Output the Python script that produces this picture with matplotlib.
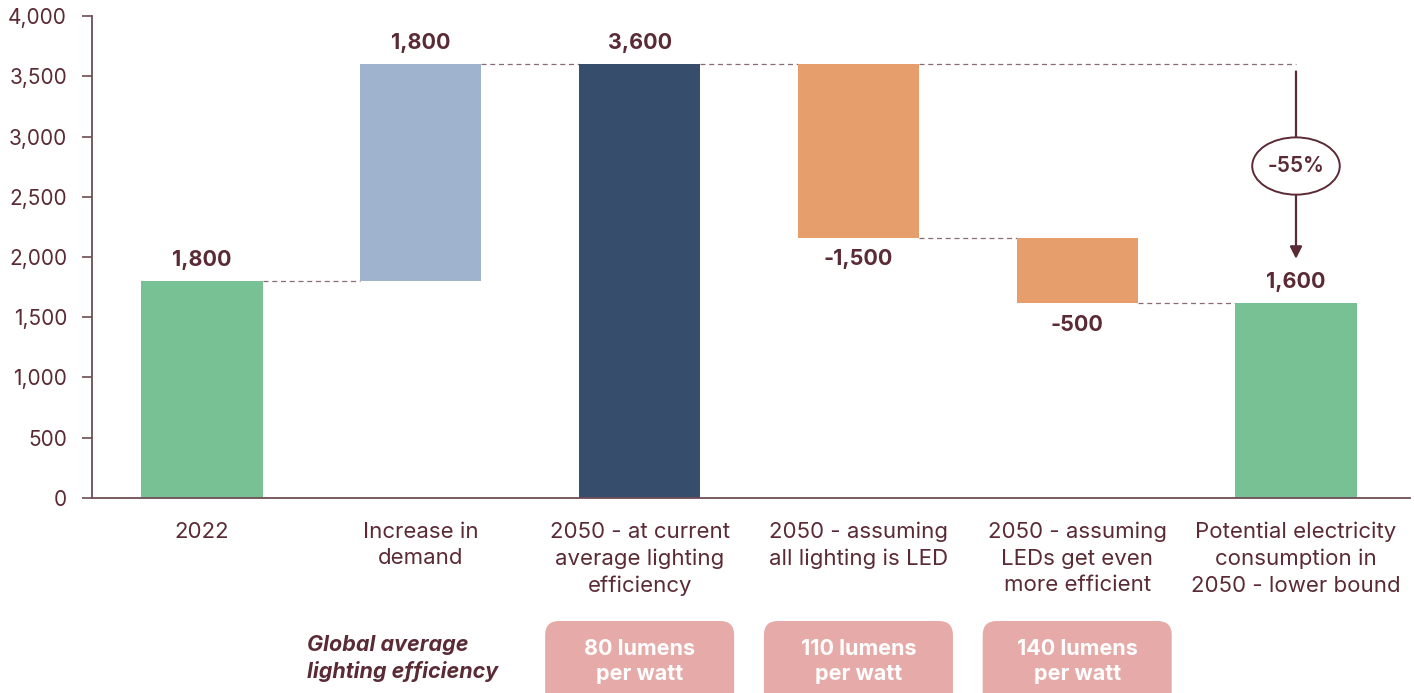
import matplotlib
matplotlib.use("Agg")
import matplotlib.pyplot as plt
from matplotlib.patches import Ellipse, FancyBboxPatch
from matplotlib.transforms import IdentityTransform
from matplotlib.ticker import FuncFormatter

# --- data ---
categories = ["2022", "Increase in\ndemand", "2050 - at current\naverage lighting\nefficiency",
              "2050 - assuming\nall lighting is LED", "2050 - assuming\nLEDs get even\nmore efficient",
              "Potential electricity\nconsumption in\n2050 - lower bound"]
bar_bottoms = [0, 1800, 0, 2155, 1615, 0]
bar_tops = [1800, 3600, 3600, 3600, 2155, 1615]
value_labels = ["1,800", "1,800", "3,600", "-1,500", "-500", "1,600"]
label_above = [True, True, True, False, False, True]
efficiency_idx = [2, 3, 4]
efficiency_labels = ["80 lumens\nper watt", "110 lumens\nper watt", "140 lumens\nper watt"]
change_label = "-55%"

colors = ["#78C194", "#9FB2CE", "#374D6C", "#E69E6D", "#E69E6D", "#78C194"]
text_c = "#5A2A35"
axis_c = "#6E4D55"
dash_c = "#8A6B70"
box_c = "#E6ABA8"

plt.rcParams['font.family'] = ['Inter', 'DejaVu Sans']

fig = plt.figure(figsize=(14.14, 6.93), dpi=100)
ax = fig.add_axes([0.0651, 0.2814, 0.9319, 0.6955])

width = 0.554
xs = list(range(len(categories)))
heights = [t - b for t, b in zip(bar_tops, bar_bottoms)]
ax.bar(xs, heights, bottom=bar_bottoms, width=width, color=colors, zorder=2)

# value labels
for i in xs:
    if label_above[i]:
        ax.annotate(value_labels[i], (i, bar_tops[i]), xytext=(0, 8), textcoords='offset points',
                    ha='center', va='bottom', fontsize=15.5, fontweight='bold', color=text_c)
    else:
        ax.annotate(value_labels[i], (i, bar_bottoms[i]), xytext=(0, -8), textcoords='offset points',
                    ha='center', va='top', fontsize=15.5, fontweight='bold', color=text_c)

# connector dashed lines
dash_kw = dict(color=dash_c, lw=0.9, ls=(0, (4, 3)), zorder=1)
for i in range(len(xs) - 1):
    level = bar_tops[i] if i < 3 else bar_bottoms[i]
    ax.plot([i + width / 2, i + 1 - width / 2], [level, level], **dash_kw)
# total line from bar 3 top to the arrow
ax.plot([3 + width / 2, 5], [bar_tops[3], bar_tops[3]], **dash_kw)

# arrow with percentage bubble
ax.annotate("", xy=(5, 1985), xytext=(5, 3540),
            arrowprops=dict(arrowstyle='-|>', color=text_c, lw=1.6,
                            mutation_scale=18, shrinkA=0, shrinkB=0), zorder=3)
ax.add_patch(Ellipse((5, 2755), 0.40, 475, facecolor='white', edgecolor=text_c, lw=1.4, zorder=4))
ax.text(5, 2755, change_label, ha='center', va='center', fontsize=15, fontweight='semibold',
        color=text_c, zorder=5)

# axes styling
ax.set_xlim(-0.503, 5.52)
ax.set_ylim(0, 4000)
ax.set_yticks(range(0, 4001, 500))
ax.yaxis.set_major_formatter(FuncFormatter(lambda v, p: f"{int(v):,}"))
ax.set_xticks(xs)
ax.set_xticklabels(categories, linespacing=1.4)
ax.tick_params(axis='x', length=0, pad=17, labelsize=16, labelcolor=text_c)
ax.tick_params(axis='y', length=7, width=1.2, color=axis_c, pad=11, labelsize=15, labelcolor=text_c)
for s in ['top', 'right']:
    ax.spines[s].set_visible(False)
for s in ['left', 'bottom']:
    ax.spines[s].set_color(axis_c)
    ax.spines[s].set_linewidth(1.3)

# bottom efficiency row
row_y = 1 - 659 / 693
fig.text(0.2173, row_y + 0.001, "Global average\nlighting efficiency", ha='left', va='center',
         fontsize=15.5, fontweight='bold', fontstyle='italic', color=text_c, linespacing=1.32)
fig.canvas.draw()
for i, lab in zip(efficiency_idx, efficiency_labels):
    x0 = ax.transData.transform((i - 0.432, 0))[0]
    x1 = ax.transData.transform((i + 0.432, 0))[0]
    box = FancyBboxPatch((x0, -20), x1 - x0, 92, boxstyle="round,pad=0,rounding_size=14",
                         transform=IdentityTransform(), facecolor=box_c, edgecolor='none')
    fig.patches.append(box)
    fig.text((x0 + x1) / 2 / fig.bbox.width, row_y - 0.003, lab, ha='center', va='center',
             fontsize=15.5, fontweight='bold', color='white', linespacing=1.32)

fig.savefig("out.png", dpi=100)
